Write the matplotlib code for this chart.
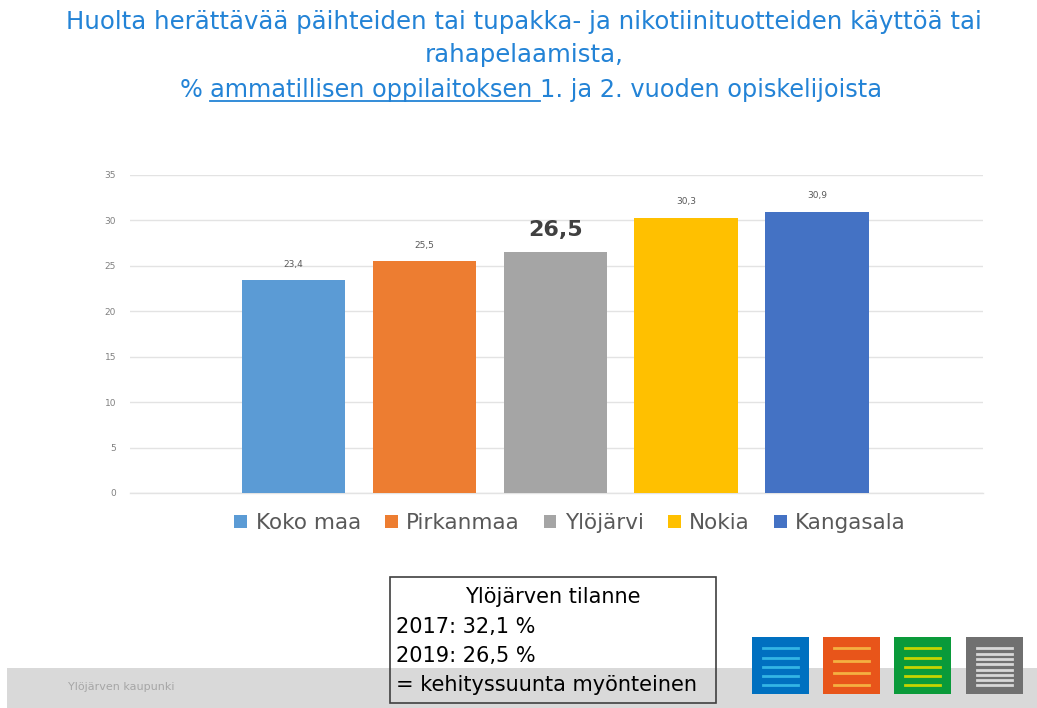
import matplotlib
matplotlib.use("Agg")
import matplotlib.pyplot as plt
from matplotlib.patches import Rectangle

# Data
categories = ['Koko maa', 'Pirkanmaa', 'Ylöjärvi', 'Nokia', 'Kangasala']
values = [23.4, 25.5, 26.5, 30.3, 30.9]
value_labels = ['23,4', '25,5', '26,5', '30,3', '30,9']
colors = ['#5B9BD5', '#ED7D31', '#A5A5A5', '#FFC000', '#4472C4']
yticks = [0, 5, 10, 15, 20, 25, 30, 35]
highlight = 'Ylöjärvi'

title_line1 = 'Huolta herättävää päihteiden tai tupakka- ja nikotiinituotteiden käyttöä tai'
title_line2 = 'rahapelaamista,'
title_pre = '% '
title_under = 'ammatillisen oppilaitoksen '
title_post = '1. ja 2. vuoden opiskelijoista'
box_lines = ['2017: 32,1 %', '2019: 26,5 %', '= kehityssuunta myönteinen']
box_title = 'Ylöjärven tilanne'
footer = 'Ylöjärven kaupunki'

W, H = 1037, 708
fig = plt.figure(figsize=(W / 100, H / 100), dpi=100)
fig.patch.set_facecolor('white')

def fx(px):
    return px / W

def fy(py):
    return 1 - py / H

# footer band
fig.patches.append(Rectangle((fx(7), 0), 1 - fx(7), fy(668), transform=fig.transFigure,
                             facecolor='#D9D9D9', edgecolor='none', zorder=0))
fig.text(fx(68), fy(687), footer, fontsize=8, color='#A6A6A6', va='center', ha='left')

# chart
ax = fig.add_axes([fx(130), fy(493), fx(983) - fx(130), fy(175) - fy(493)])
x = list(range(len(categories)))
bars = ax.bar(x, values, width=0.79, color=colors, zorder=3)
ax.set_xlim(-1.25, 5.27)
ax.set_ylim(0, 35)
ax.set_yticks(yticks)
ax.set_yticklabels([str(t) for t in yticks], fontsize=6.5, color='#808080')
ax.set_xticks([])
ax.tick_params(axis='y', length=0, pad=10)
ax.grid(axis='y', color='#E3E3E3', linewidth=1, zorder=0)
ax.axhline(0, color='#E3E3E3', linewidth=1, zorder=1, clip_on=False)
for s in ax.spines.values():
    s.set_visible(False)

for xi, v, lab, cat in zip(x, values, value_labels, categories):
    if cat == highlight:
        ax.text(xi, v + 1.3, lab, ha='center', va='bottom', fontsize=16,
                fontweight='bold', color='#404040')
    else:
        ax.text(xi, v + 1.3, lab, ha='center', va='bottom', fontsize=6.5, color='#595959')

# legend
leg = ax.legend(bars, categories, loc='center', bbox_to_anchor=(fx(570), fy(523)),
                bbox_transform=fig.transFigure, ncol=5, frameon=False,
                fontsize=15.5, handlelength=0.6, handleheight=0.6, handletextpad=0.4,
                columnspacing=1.1)
for t in leg.get_texts():
    t.set_color('#595959')

# title
tcol = '#2383D6'
tsize = 17.6
fig.text(fx(524), fy(22), title_line1, ha='center', va='center', fontsize=tsize, color=tcol)
fig.text(fx(524), fy(55), title_line2, ha='center', va='center', fontsize=tsize, color=tcol)

tsize3 = 17.3
renderer = fig.canvas.get_renderer()
parts = [title_pre, title_under, title_post]
tmp = [fig.text(0, 0, p.replace(' ', '\u00a0'), fontsize=tsize3) for p in parts]
widths = [t.get_window_extent(renderer).width for t in tmp]
for t in tmp:
    t.remove()
total = sum(widths)
xs = 531 - total / 2
for p, w in zip(parts, widths):
    fig.text(fx(xs), fy(90), p.replace(' ', '\u00a0'), ha='left', va='center',
             fontsize=tsize3, color=tcol)
    if p == title_under:
        fig.add_artist(plt.Line2D([fx(xs), fx(xs + w)], [fy(101), fy(101)],
                                  transform=fig.transFigure, color=tcol, linewidth=1.3))
    xs += w

# info box
fig.patches.append(Rectangle((fx(390), fy(703)), fx(716) - fx(390), fy(577) - fy(703),
                             transform=fig.transFigure, facecolor='none',
                             edgecolor='#404040', linewidth=1.2, zorder=5))
fig.text(fx(553), fy(597), box_title, ha='center', va='center', fontsize=15, color='black')
for i, line in enumerate(box_lines):
    fig.text(fx(396), fy(627 + i * 29), line, ha='left', va='center', fontsize=15, color='black')

# logos
def logo(x0, y0, size, face, stripe, n):
    fig.patches.append(Rectangle((fx(x0), fy(y0 + size)), fx(size), size / H,
                                 transform=fig.transFigure, facecolor=face,
                                 edgecolor='none', zorder=2))
    for k in range(n):
        yy = y0 + size * (0.2 + 0.65 * k / max(n - 1, 1))
        fig.add_artist(plt.Line2D([fx(x0 + size * 0.2), fx(x0 + size * 0.8)], [fy(yy), fy(yy)],
                                  transform=fig.transFigure, color=stripe, linewidth=2,
                                  zorder=6))

logo(752, 637, 57, '#0070C0', '#33B5E5', 5)
logo(823, 637, 57, '#E8551A', '#F5B041', 4)
logo(894, 637, 57, '#0A9A3A', '#C5D400', 5)
logo(966, 637, 57, '#707070', '#D8D8D8', 8)

fig.savefig('out.png', dpi=100)
